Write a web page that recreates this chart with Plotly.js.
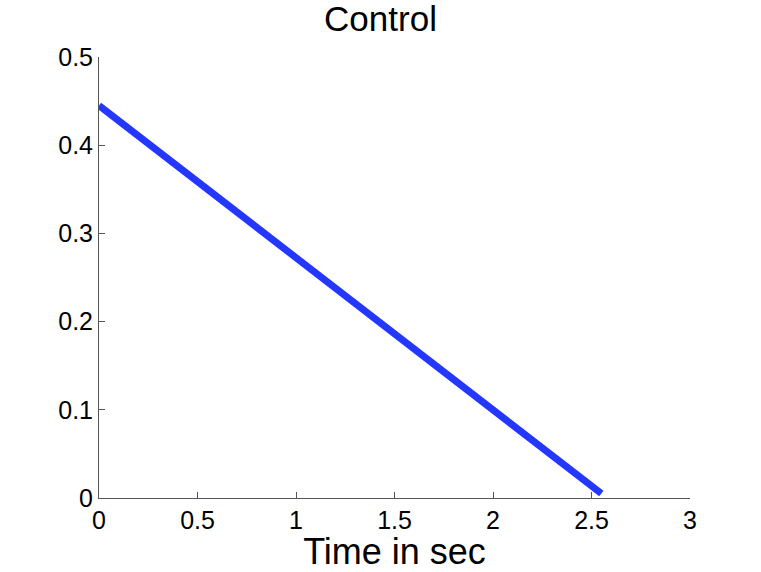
<!DOCTYPE html>
<html>
<head>
<meta charset="utf-8">
<script src="https://cdn.plot.ly/plotly-3.0.1.min.js"></script>
<style>html,body{margin:0;padding:0;background:#fff;}#chart{width:761px;height:572px;}</style>
</head>
<body>
<div id="chart"></div>
<script>
const timeSec = [0, 2.55];
const control = [0.445, 0.005];
const xTicks = [0, 0.5, 1, 1.5, 2, 2.5, 3];
const xTickLabels = ['0', '0.5', '1', '1.5', '2', '2.5', '3'];
const yTicks = [0, 0.1, 0.2, 0.3, 0.4, 0.5];
const yTickLabels = ['0', '0.1', '0.2', '0.3', '0.4', '0.5'];

const font = 'Liberation Sans, Arial, Helvetica, sans-serif';
Plotly.newPlot('chart', [{
  x: timeSec, y: control, type: 'scatter', mode: 'lines',
  line: {color: 'rgb(35,55,255)', width: 7}, hoverinfo: 'none'
}], {
  width: 761, height: 572,
  margin: {l: 99, r: 71, t: 57, b: 74, pad: 0},
  paper_bgcolor: '#fff', plot_bgcolor: '#fff',
  showlegend: false,
  title: {text: 'Control', font: {family: font, size: 35, color: '#000'}, x: 0.5, xanchor: 'center', y: 1 - 19/572, yanchor: 'middle', yref: 'container'},
  xaxis: {
    range: [0, 3], tickvals: xTicks, ticktext: xTickLabels,
    showgrid: false, zeroline: false, showline: true, linecolor: '#555', linewidth: 1,
    ticks: 'inside', ticklen: 6, tickcolor: '#555',
    tickfont: {family: font, size: 25, color: '#000'},
    title: {text: 'Time in sec', font: {family: font, size: 36, color: '#000'}, standoff: 0}
  },
  yaxis: {
    range: [0, 0.5], tickvals: yTicks, ticktext: yTickLabels,
    showgrid: false, zeroline: false, showline: true, linecolor: '#555', linewidth: 1,
    ticks: 'inside', ticklen: 6, tickcolor: '#555',
    tickfont: {family: font, size: 25, color: '#000'}
  }
}, {staticPlot: true});
</script>
</body>
</html>
